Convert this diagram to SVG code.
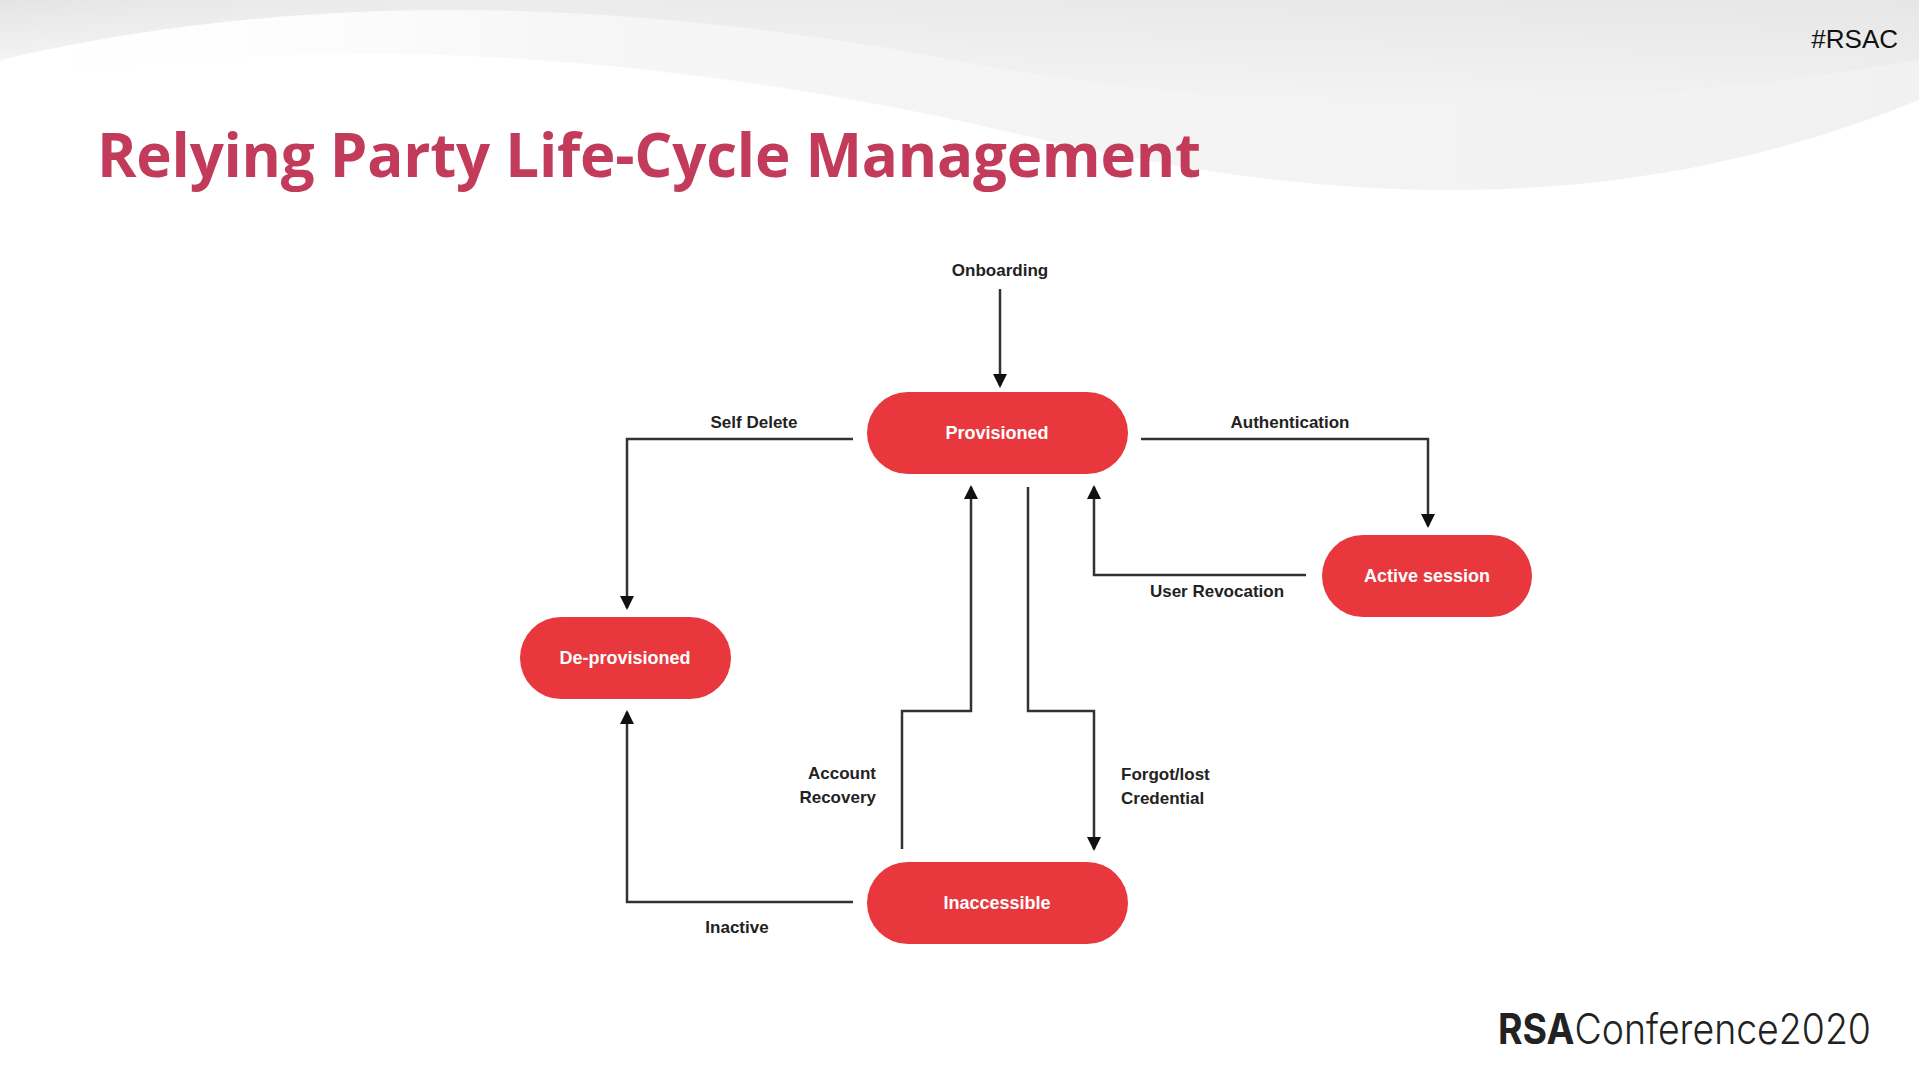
<svg xmlns="http://www.w3.org/2000/svg" width="1919" height="1079" viewBox="0 0 1919 1079">
<defs>
<marker id="ah" markerWidth="16" markerHeight="16" refX="12" refY="8" orient="auto" markerUnits="userSpaceOnUse"><path d="M0,1 L14,8 L0,15 z" fill="#111"/></marker>
<linearGradient id="sw" x1="0" y1="0" x2="0" y2="1"><stop offset="0" stop-color="#e4e4e4"/><stop offset="1" stop-color="#ffffff"/></linearGradient>
<linearGradient id="sw2" x1="0" y1="0" x2="1" y2="0"><stop offset="0" stop-color="#ffffff" stop-opacity="0"/><stop offset="0.3" stop-color="#f0f0f0"/><stop offset="1" stop-color="#e8e8e8"/></linearGradient>
</defs>
<style>
.node rect{fill:#e8383d}
.node text{fill:#fff;font-family:"Liberation Sans",Arial,sans-serif;font-weight:bold;font-size:18px;text-anchor:middle}
.lbl{fill:#222;font-family:"Liberation Sans",Arial,sans-serif;font-size:17px;font-weight:bold}
#edges path{fill:none;stroke:#333;stroke-width:2.5}
</style>
<rect width="1919" height="1079" fill="#fff"/>
<path d="M0,60 C300,-10 600,0 900,50 C1200,110 1500,130 1919,60 L1919,0 L0,0 z" fill="url(#sw)"/>
<path d="M0,90 C300,20 700,60 1000,130 C1300,200 1600,230 1919,100 L1919,0 L0,0 z" fill="url(#sw2)" opacity="0.6"/>
<text x="97" y="177" font-family="'Open Sans',sans-serif" font-weight="bold" font-size="60" fill="#c23b5b" textLength="1104">Relying Party Life-Cycle Management</text>
<text x="1898" y="48" text-anchor="end" font-family="'Liberation Sans',Arial,sans-serif" font-size="26" fill="#111">#RSAC</text>
<text x="1498" y="1044" font-family="Inter,'Liberation Sans',sans-serif" font-size="42" fill="#222" textLength="373" lengthAdjust="spacingAndGlyphs"><tspan font-weight="bold">RSA</tspan><tspan font-weight="300">Conference2020</tspan></text>
<g id="edges">
<path d="M1000,289 V386" marker-end="url(#ah)"/>
<path d="M853,439 H627 V608" marker-end="url(#ah)"/>
<path d="M1141,439 H1428 V526" marker-end="url(#ah)"/>
<path d="M1306,575 H1094 V487" marker-end="url(#ah)"/>
<path d="M902,849 V711 H971 V487" marker-end="url(#ah)"/>
<path d="M1028,487 V711 H1094 V849" marker-end="url(#ah)"/>
<path d="M853,902 H627 V712" marker-end="url(#ah)"/>
</g>
<text class="lbl" x="1000" y="276" text-anchor="middle">Onboarding</text>
<text class="lbl" x="754" y="428" text-anchor="middle">Self Delete</text>
<text class="lbl" x="1290" y="428" text-anchor="middle">Authentication</text>
<text class="lbl" x="1217" y="597" text-anchor="middle">User Revocation</text>
<text class="lbl" x="876" y="779" text-anchor="end">Account</text>
<text class="lbl" x="876" y="803" text-anchor="end">Recovery</text>
<text class="lbl" x="1121" y="780" >Forgot/lost</text>
<text class="lbl" x="1121" y="804">Credential</text>
<text class="lbl" x="737" y="933" text-anchor="middle">Inactive</text>
<g id="provisioned" class="node"><rect x="867" y="392" width="261" height="82" rx="41"/><text x="997" y="439">Provisioned</text></g>
<g id="active" class="node"><rect x="1322" y="535" width="210" height="82" rx="41"/><text x="1427" y="582">Active session</text></g>
<g id="deprov" class="node"><rect x="520" y="617" width="211" height="82" rx="41"/><text x="625" y="664">De-provisioned</text></g>
<g id="inacc" class="node"><rect x="867" y="862" width="261" height="82" rx="41"/><text x="997" y="909">Inaccessible</text></g>
</svg>
